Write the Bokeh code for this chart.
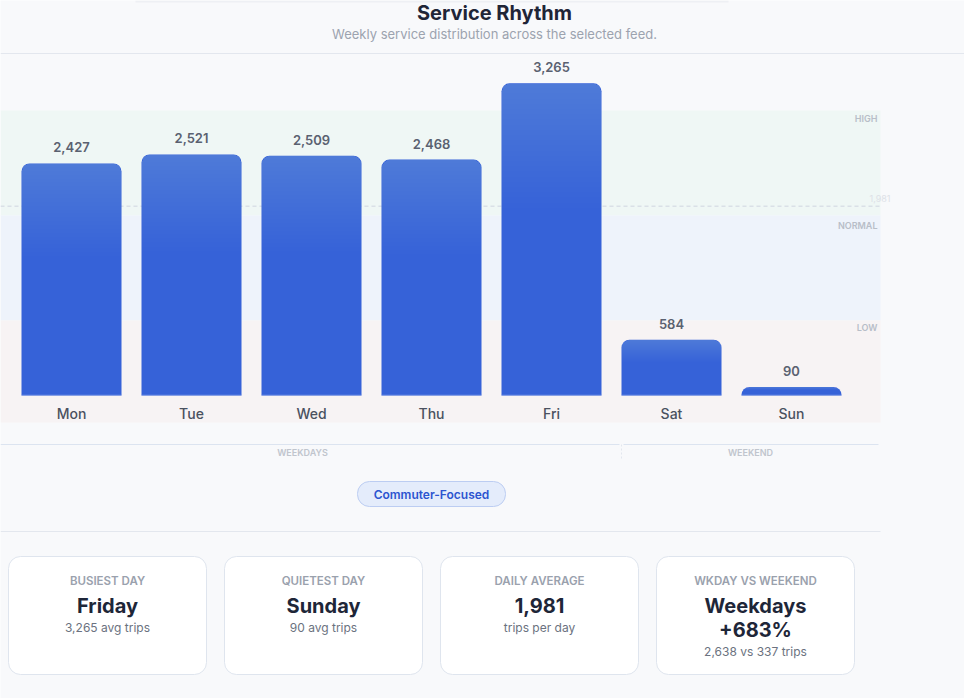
from bokeh.plotting import figure
from bokeh.models import Range1d
from bokeh.core.properties import value
from bokeh.embed import file_html
from bokeh.resources import INLINE

# ---- data ---------------------------------------------------------------
days = ["Mon", "Tue", "Wed", "Thu", "Fri", "Sat", "Sun"]
day_names = ["Monday", "Tuesday", "Wednesday", "Thursday", "Friday", "Saturday", "Sunday"]
avg_trips = [2427, 2521, 2509, 2468, 3265, 584, 90]
is_weekday = [True, True, True, True, True, False, False]
band_labels = ["HIGH", "NORMAL", "LOW"]
group_labels = ["WEEKDAYS", "WEEKEND"]
profile = "Commuter-Focused"

# ---- derived summary figures --------------------------------------------
idx = list(range(len(days)))
busiest = max(idx, key=lambda i: avg_trips[i])
quietest = min(idx, key=lambda i: avg_trips[i])
daily_avg = sum(avg_trips) / len(avg_trips)
wk = [v for v, w in zip(avg_trips, is_weekday) if w]
we = [v for v, w in zip(avg_trips, is_weekday) if not w]
wk_avg = round(sum(wk) / len(wk))
we_avg = round(sum(we) / len(we))
lift = round((wk_avg / we_avg - 1) * 100)

# ---- page geometry ------------------------------------------------------
W, H = 964, 698
BASE_PX = 395          # pixel row of the zero line
PX_PER_TRIP = 0.0956   # vertical scale
SLOT = 120             # pixels per day slot
FIRST_X = 71           # pixel centre of the first slot
BAR_W = 100 / SLOT

BG = "#f8f9fb"
FONT = value("Inter")
FONT_SEMI = value("Inter SemiBold")
FONT_MED = value("Inter Medium")

p = figure(
    width=W, height=H,
    x_range=Range1d(-FIRST_X / SLOT, (W - FIRST_X) / SLOT),
    y_range=Range1d(-(H - BASE_PX) / PX_PER_TRIP, BASE_PX / PX_PER_TRIP),
    x_axis_location=None, y_axis_location=None,
    toolbar_location=None, output_backend="svg",
    min_border=0, background_fill_color=BG, border_fill_color=BG,
    outline_line_color=None,
)
for g in p.grid:
    g.visible = False

# pixel-space ranges for the page furniture
p.extra_x_ranges = {"px": Range1d(0, W)}
p.extra_y_ranges = {"px": Range1d(H, 0)}
PX = dict(x_range_name="px", y_range_name="px")


def txt(x, y, s, size, color, font=FONT, bold=False, align="center", baseline="middle", **kw):
    p.text(x=[x], y=[y], text=[s], text_font=font, text_font_size=value(f"{size}px"),
           text_color=color, text_font_style="bold" if bold else "normal",
           text_align=align, text_baseline=baseline, **PX, **kw)


# ---- header -------------------------------------------------------------
p.quad(left=135, right=728, top=0, bottom=2, fill_color="#eef0f4", line_color=None, **PX)
txt(494, 12, "Service Rhythm", 20, "#1f2537", bold=True)
txt(494, 33, "Weekly service distribution across the selected feed.", 13, "#9ca3af")
p.segment(x0=0, x1=W, y0=53, y1=53, line_color="#e3e7ee", line_width=1, **PX)

# ---- level bands --------------------------------------------------------
p.quad(left=0, right=880, top=[110, 215, 320], bottom=[215, 320, 422],
       fill_color=["#eff7f5", "#eef3fb", "#f7f3f4"], line_color=None, **PX)
for lab, y in zip(band_labels, [118, 225, 327]):
    txt(877, y, lab, 9, "#b8bec8", font=FONT_SEMI, align="right")

# average reference line with its faint value tag
p.segment(x0=0, x1=880, y0=daily_avg, y1=daily_avg, x_range_name="px",
          line_color="#cfd5df", line_width=1, line_dash="4 3")
p.text(x=[890], y=[daily_avg], text=[f"{round(daily_avg):,}"], y_offset=-8,
       x_range_name="px", text_font=FONT, text_font_size=value("9px"),
       text_color="#dde1e7", text_align="right", text_baseline="middle")

# ---- bars ---------------------------------------------------------------
p.vbar(x=idx, top=avg_trips, bottom=0, width=BAR_W, fill_color="#3662d8",
       line_color=None, border_radius=(8, 8, 0, 0))
# soft highlight toward the top of each bar
N = 24
for j in range(N):
    frac = 0.4 * (j + 1) / N
    p.vbar(x=idx, top=avg_trips, bottom=[v * (1 - frac) for v in avg_trips],
           width=BAR_W, fill_color="white", fill_alpha=0.0093, line_color=None,
           border_radius=(8, 8, 0, 0))
# thin light rim along the base of each bar
p.vbar(x=idx, top=[v * 0 + 1 / PX_PER_TRIP for v in avg_trips], bottom=0,
       width=BAR_W, fill_color="#6f8fe6", fill_alpha=0.6, line_color=None)

p.text(x=idx, y=avg_trips, text=[f"{v:,}" for v in avg_trips], y_offset=-16,
       text_font=FONT_SEMI, text_font_size=value("13px"),
       text_color="#5a6170", text_align="center", text_baseline="alphabetic")
p.text(x=idx, y=[0] * len(idx), text=days, y_offset=18,
       text_font=FONT_MED, text_font_size=value("14px"),
       text_color="#4a5160", text_align="center", text_baseline="alphabetic")

# ---- weekday / weekend grouping -----------------------------------------
p.segment(x0=[0, 623], x1=[619, 878], y0=[444, 444], y1=[444, 444],
          line_color="#dce4f0", line_width=1, **PX)
p.segment(x0=621, x1=621, y0=444, y1=458, line_color="#e3e7ee",
          line_width=1, line_dash="2 2", **PX)
txt(302, 452, group_labels[0], 9, "#c0c5cd", font=FONT_SEMI)
txt(750, 452, group_labels[1], 9, "#c0c5cd", font=FONT_SEMI)

# ---- profile pill -------------------------------------------------------
p.quad(left=357, right=505, top=481, bottom=506, fill_color="#e4ecfb",
       line_color="#bccdf2", line_width=1, border_radius=12, **PX)
txt(431, 494, profile, 12, "#2c54d0", font=FONT_SEMI)

p.segment(x0=0, x1=880, y0=531, y1=531, line_color="#e3e7ee", line_width=1, **PX)

# ---- summary cards ------------------------------------------------------
card_left = [8, 224, 440, 656]
CARD_W = 198
p.quad(left=card_left, right=[l + CARD_W for l in card_left], top=556, bottom=674,
       fill_color="white", line_color="#dfe5ee", line_width=1, border_radius=12, **PX)

cards = [
    ("BUSIEST DAY", [day_names[busiest]], f"{avg_trips[busiest]:,} avg trips"),
    ("QUIETEST DAY", [day_names[quietest]], f"{avg_trips[quietest]:,} avg trips"),
    ("DAILY AVERAGE", [f"{round(daily_avg):,}"], "trips per day"),
    ("WKDAY VS WEEKEND", ["Weekdays", f"+{lift}%"], f"{wk_avg:,} vs {we_avg:,} trips"),
]
for left, (label, main_lines, sub) in zip(card_left, cards):
    cx = left + CARD_W / 2
    txt(cx, 580, label, 11.5, "#9aa1ad", font=FONT_SEMI)
    y = 605
    for line in main_lines:
        txt(cx, y, line, 20, "#1e2638", bold=True)
        y += 24
    txt(cx, y - 2, sub, 12, "#6b7280")

open("out.html", "w").write(file_html(p, INLINE))
